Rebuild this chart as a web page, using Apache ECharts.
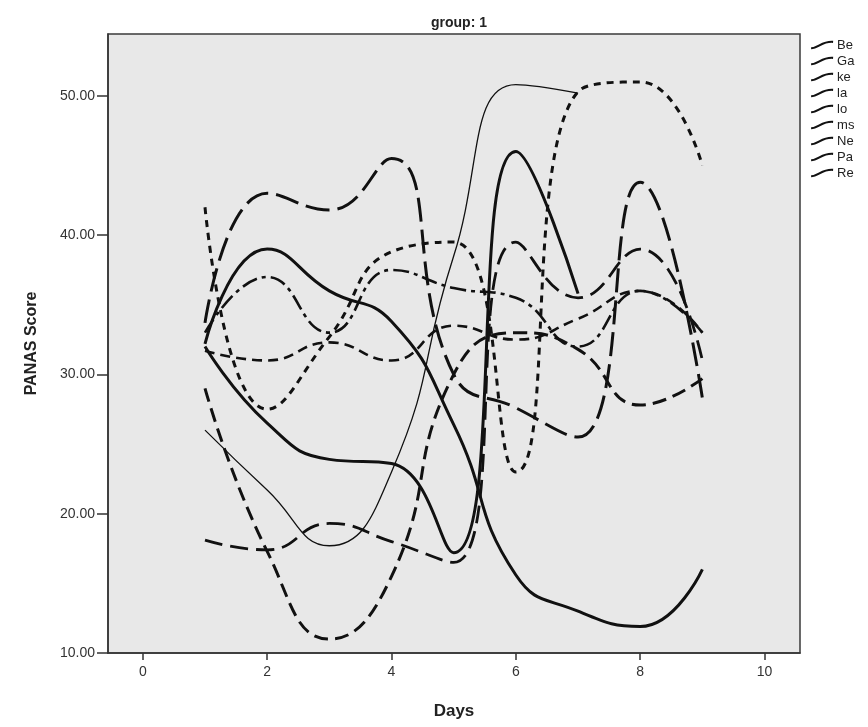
<!DOCTYPE html>
<html>
<head>
<meta charset="utf-8">
<script src="https://cdn.jsdelivr.net/npm/echarts@6/dist/echarts.min.js"></script>
<style>html,body{margin:0;padding:0;background:#fff}#c{width:868px;height:727px}</style>
</head>
<body>
<div id="c"></div>
<script>
const days = [1, 2, 3, 4, 5, 6, 7, 8, 9];
const names = ['Be', 'Ga', 'ke', 'la', 'lo', 'ms', 'Ne', 'Pa', 'Re'];
const Be = [26, 21.7, 17.7, 23, 38.5, 50.8, 50.2];
const Ga = [32, 26.5, 23.9, 23.6, 17.2, 46, 35.8];
const ke = [32.2, 39, 36, 33.8, 26.4, 15.6, 13, 11.9, 16];
const la = [33, 37, 33, 37.5, 36.2, 35.5, 32, 36, 33];
const lo = [42, 27.5, 32.7, 38.8, 39.5, 23, 50.3, 51, 45];
const ms = [29, 17.3, 11, 15.5, 30, 33, 31.8, 27.8, 29.7];
const Ne = [31.7, 31, 32.3, 31, 33.5, 32.5, 34, 36, 33];
const Pa = [18.1, 17.4, 19.3, 18, 16.5, 39.5, 35.5, 39, 31];
const Re = [33.7, 43, 41.8, 45.5, 30, 27.6, 25.5, 43.8, 28.3];
const xTicks = [0, 2, 4, 6, 8, 10];
const yTicks = [10, 20, 30, 40, 50];

const values = {Be, Ga, ke, la, lo, ms, Ne, Pa, Re};
const styles = {
  Be: {width: 1.3, type: 'solid'},
  Ga: {width: 3, type: 'solid'},
  ke: {width: 3, type: 'solid'},
  la: {width: 2.6, type: [16, 5, 4, 5]},
  lo: {width: 3, type: [7, 6]},
  ms: {width: 3, type: [14, 7]},
  Ne: {width: 2.6, type: [10, 6]},
  Pa: {width: 2.8, type: [18, 8]},
  Re: {width: 3, type: [24, 8]}
};

const chart = echarts.init(document.getElementById('c'));
chart.setOption({
  backgroundColor: '#fff',
  animation: false,
  title: {
    text: 'group: 1', left: 454, top: 11, textAlign: 'center',
    textStyle: {fontFamily: 'Liberation Sans, Arial', fontSize: 14, fontWeight: 'bold', color: '#222'}
  },
  legend: {
    orient: 'vertical', left: 805, top: 33,
    itemWidth: 22, itemHeight: 8, itemGap: 2,
    icon: 'path://M0,8 C8,8 12,0 24,1',
    itemStyle: {color: 'transparent', borderColor: '#111', borderWidth: 2.2},
    data: names,
    textStyle: {fontFamily: 'Liberation Sans, Arial', fontSize: 13, color: '#222', lineHeight: 14, padding: [0, 0, 0, -1]}
  },
  grid: {left: 108, top: 34, right: 68, bottom: 74, show: true, backgroundColor: '#e8e8e8', borderColor: '#3a3a3a', borderWidth: 1.5},
  xAxis: {
    type: 'value', min: -0.56, max: 10.57,
    name: 'Days', nameLocation: 'middle', nameGap: 50,
    nameTextStyle: {fontFamily: 'Liberation Sans, Arial', fontSize: 17, fontWeight: 'bold', color: '#222'},
    axisLine: {show: true, onZero: false, lineStyle: {color: '#333', width: 1.5}},
    axisTick: {show: true, length: 7, customValues: xTicks, lineStyle: {color: '#333', width: 1.5}},
    axisLabel: {customValues: xTicks, margin: 12, fontFamily: 'Liberation Sans, Arial', fontSize: 14, color: '#333'},
    splitLine: {show: false}
  },
  yAxis: {
    type: 'value', min: 10, max: 54.44,
    name: 'PANAS Score', nameLocation: 'middle', nameGap: 68, nameRotate: 90,
    nameTextStyle: {fontFamily: 'Liberation Sans, Arial', fontSize: 16, fontWeight: 'bold', color: '#222'},
    axisLine: {show: true, onZero: false, lineStyle: {color: '#333', width: 1.5}},
    axisTick: {show: true, length: 11, customValues: yTicks, lineStyle: {color: '#333', width: 1.5}},
    axisLabel: {customValues: yTicks, margin: 13, formatter: v => v.toFixed(2), fontFamily: 'Liberation Sans, Arial', fontSize: 14, color: '#333'},
    splitLine: {show: false}
  },
  series: names.map(n => ({
    name: n, type: 'line', smooth: 0.5, symbol: 'none', showSymbol: false,
    data: values[n].map((v, i) => [days[i], v]),
    lineStyle: {color: '#111', width: styles[n].width, type: styles[n].type, cap: 'butt'},
    itemStyle: {color: '#111'},
    emphasis: {disabled: true}
  }))
});
</script>
</body>
</html>
